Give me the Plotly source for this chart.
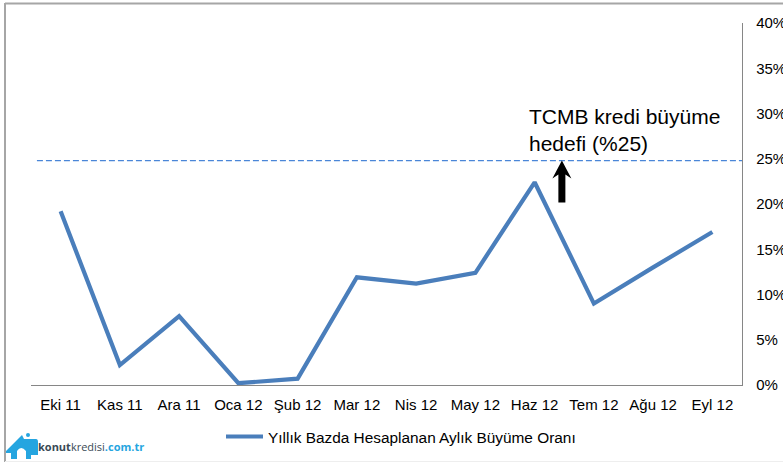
import plotly.graph_objects as go

categories = ["Eki 11", "Kas 11", "Ara 11", "Oca 12", "Şub 12", "Mar 12", "Nis 12", "May 12", "Haz 12", "Tem 12", "Ağu 12", "Eyl 12"]
growth = [19.2, 2.2, 7.6, 0.2, 0.7, 11.9, 11.2, 12.4, 22.4, 9.0, 13.0, 16.9]
series_name = "Yıllık Bazda Hesaplanan Aylık Büyüme Oranı"
target = 24.8
y_ticks = [0, 5, 10, 15, 20, 25, 30, 35, 40]
y_labels = ["0%", "5%", "10%", "15%", "20%", "25%", "30%", "35%", "40%"]

W, H = 783, 463
L, R, T, B = 31, 41, 23, 78
PW, PH = W - L - R, H - T - B
FONT = "Liberation Sans, Arial, sans-serif"
BLUE = "#4a7ebb"
GRAY = "#868686"

def px(x):
    return (x - L) / PW

def py(y):
    return 1 - (y - T) / PH

fig = go.Figure()
fig.add_trace(go.Scatter(x=categories, y=growth, mode="lines", name=series_name,
                         line=dict(color=BLUE, width=4.2), showlegend=True))

shapes = [
    # outer frame
    dict(type="line", xref="paper", yref="paper", x0=px(5), x1=px(5), y0=py(3), y1=py(462), line=dict(color="#a6a6a6", width=2)),
    dict(type="line", xref="paper", yref="paper", x0=px(5), x1=px(783), y0=py(3.5), y1=py(3.5), line=dict(color="#a6a6a6", width=2)),
    dict(type="line", xref="paper", yref="paper", x0=px(5), x1=px(783), y0=py(461.5), y1=py(461.5), line=dict(color="#eeeeee", width=1)),
    # target line
    dict(type="line", xref="x", yref="y", x0=-0.4, x1=11.5, y0=target, y1=target,
         line=dict(color="#4a86d8", width=1.2, dash="6px,3px")),
    # arrow
    dict(type="path", xref="x", yref="y", xsizemode="pixel", ysizemode="pixel",
         xanchor=8.46, yanchor=target,
         path="M 0 0 L 9.5 -18 L 3.5 -14 L 3.5 -42 L -3.5 -42 L -3.5 -14 L -9.5 -18 Z",
         fillcolor="#000000", line=dict(width=0)),
    # logo house
    dict(type="path", xref="paper", yref="paper", xsizemode="pixel", ysizemode="pixel",
         xanchor=px(6), yanchor=py(459),
         path="M 0 8 L 12 20 L 16 24 L 18 20 L 30 20 Q 32 20 32 17 L 32 4 L 25 4 L 25 0 L 20 0 L 20 8 Q 15 14 11 8 L 11 0 L 5 0 L 5 6 L 0 6 Z",
         fillcolor="#25a5e0", line=dict(width=0)),
    dict(type="circle", xref="paper", yref="paper", x0=px(26), x1=px(30), y0=py(437), y1=py(433),
         fillcolor="#25a5e0", line=dict(width=0)),
]

annotations = [
    dict(xref="paper", yref="paper", x=px(527), y=py(130), xanchor="left", yanchor="middle", align="left",
         text="TCMB kredi büyüme<br>hedefi (%25)", showarrow=False,
         font=dict(family=FONT, size=21, color="#000000")),
    dict(xref="paper", yref="paper", x=px(36), y=py(447), xanchor="left", yanchor="middle",
         text="<b><span style='color:#3a4a55'>konut</span></b><span style='color:#3a4a55'>kredisi</span><b><span style='color:#25a5e0'>.com.tr</span></b>",
         showarrow=False, font=dict(family="Open Sans, sans-serif", size=11)),
]

fig.update_layout(
    width=W, height=H, autosize=False,
    margin=dict(l=L, r=R, t=T, b=B),
    paper_bgcolor="white", plot_bgcolor="white",
    font=dict(family=FONT, color="#000000"),
    shapes=shapes, annotations=annotations,
    legend=dict(orientation="h", xref="container", yref="container",
                x=221 / W, y=1 - 437 / H, xanchor="left", yanchor="middle",
                font=dict(family=FONT, size=15.4), itemwidth=37,
                bgcolor="rgba(0,0,0,0)", borderwidth=0),
    xaxis=dict(type="category", range=[-0.5, 11.5], showgrid=False, zeroline=False, automargin=False,
               showline=True, linecolor=GRAY, linewidth=1.3, ticks="",
               tickfont=dict(family=FONT, size=15), ticklabelstandoff=6),
    yaxis=dict(side="right", range=[0, 40], tickvals=y_ticks, ticktext=y_labels, automargin=False,
               showgrid=False, zeroline=False, showline=True, linecolor=GRAY, linewidth=1.3,
               ticks="", tickfont=dict(family=FONT, size=15), ticklabelstandoff=10),
)

fig.write_html("out.html", config={"displayModeBar": False}, post_script="document.body.style.margin='0';")
